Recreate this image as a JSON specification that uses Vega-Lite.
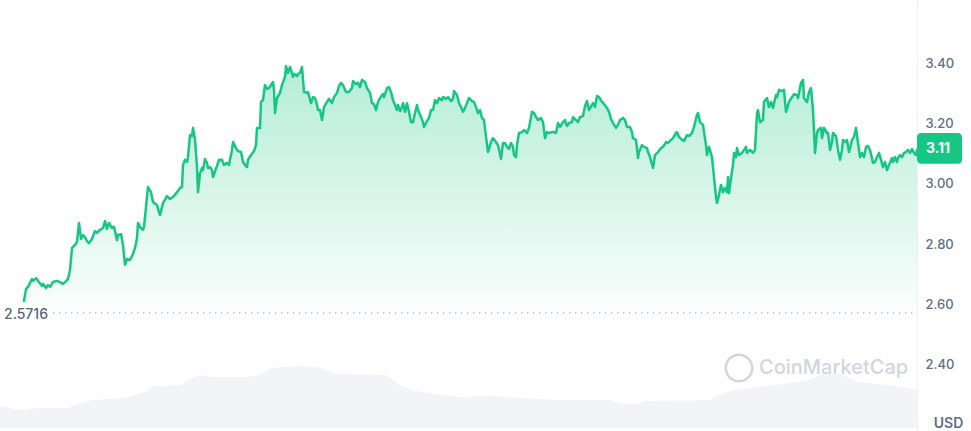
{
"$schema": "https://vega.github.io/schema/vega-lite/v6.json",
"width": 917,
"height": 431,
"autosize": {"type": "none"},
"padding": {"left": 0, "top": 0, "right": 54, "bottom": 0},
"background": "white",
"config": {
  "view": {"stroke": null},
  "font": "Inter",
  "axisY": {"labelFont": "Inter", "labelFontSize": 13, "labelFontWeight": 500, "labelColor": "#616e85", "labelPadding": 8, "ticks": false, "grid": true, "gridColor": "#eff2f5", "gridWidth": 1, "domain": true, "domainColor": "#eff2f5", "titleFont": "Inter", "titleFontSize": 14, "titleFontWeight": 600, "titleColor": "#616e85", "titleAngle": 0, "titleX": 31, "titleY": 427, "titleAlign": "center", "titleBaseline": "alphabetic"}
},
"datasets": {
  "price": [
{"t":24,"price":2.611},{"t":26,"price":2.651},{"t":28,"price":2.658},{"t":32,"price":2.684},{"t":33,"price":2.678},{"t":36,"price":2.687},{"t":38,"price":2.678},{"t":42,"price":2.661},{"t":43,"price":2.668},{"t":46,"price":2.654},{"t":48,"price":2.664},{"t":50,"price":2.658},{"t":53,"price":2.674},{"t":57,"price":2.678},{"t":60,"price":2.674},{"t":63,"price":2.668},{"t":65,"price":2.674},{"t":68,"price":2.684},{"t":70,"price":2.714},{"t":72,"price":2.787},{"t":75,"price":2.797},{"t":77,"price":2.807},{"t":79,"price":2.870},{"t":81,"price":2.817},{"t":83,"price":2.830},{"t":85,"price":2.823},{"t":87,"price":2.810},{"t":89,"price":2.803},{"t":92,"price":2.817},{"t":95,"price":2.843},{"t":97,"price":2.837},{"t":100,"price":2.847},{"t":103,"price":2.853},{"t":105,"price":2.876},{"t":107,"price":2.850},{"t":109,"price":2.870},{"t":112,"price":2.853},{"t":114,"price":2.857},{"t":117,"price":2.813},{"t":118,"price":2.830},{"t":121,"price":2.833},{"t":123,"price":2.797},{"t":125,"price":2.731},{"t":127,"price":2.750},{"t":130,"price":2.747},{"t":133,"price":2.767},{"t":135,"price":2.787},{"t":137,"price":2.820},{"t":138,"price":2.870},{"t":140,"price":2.857},{"t":143,"price":2.847},{"t":144,"price":2.857},{"t":147,"price":2.956},{"t":148,"price":2.989},{"t":151,"price":2.972},{"t":153,"price":2.939},{"t":157,"price":2.929},
{"t":160,"price":2.896},{"t":163,"price":2.936},{"t":167,"price":2.959},{"t":170,"price":2.949},{"t":173,"price":2.956},{"t":177,"price":2.972},{"t":180,"price":2.986},{"t":182,"price":2.989},{"t":183,"price":3.062},{"t":185,"price":3.079},{"t":187,"price":3.072},{"t":188,"price":3.088},{"t":190,"price":3.161},{"t":192,"price":3.158},{"t":193,"price":3.185},{"t":195,"price":3.145},{"t":197,"price":3.055},{"t":198,"price":2.972},{"t":200,"price":3.035},{"t":202,"price":3.052},{"t":203,"price":3.045},{"t":205,"price":3.082},{"t":207,"price":3.069},{"t":208,"price":3.052},{"t":210,"price":3.055},{"t":212,"price":3.045},{"t":213,"price":3.022},{"t":217,"price":3.059},{"t":219,"price":3.079},{"t":222,"price":3.079},{"t":224,"price":3.062},{"t":227,"price":3.069},{"t":229,"price":3.062},{"t":230,"price":3.079},{"t":232,"price":3.112},{"t":233,"price":3.138},{"t":236,"price":3.118},{"t":238,"price":3.108},{"t":241,"price":3.105},{"t":243,"price":3.072},{"t":245,"price":3.062},{"t":247,"price":3.055},{"t":248,"price":3.079},{"t":251,"price":3.095},{"t":254,"price":3.108},{"t":256,"price":3.128},{"t":257,"price":3.185},{"t":260,"price":3.185},{"t":261,"price":3.271},{"t":263,"price":3.277},{"t":265,"price":3.327},{"t":267,"price":3.314},{"t":269,"price":3.317},{"t":271,"price":3.327},{"t":273,"price":3.337},{"t":274,"price":3.311},{"t":275,"price":3.234},{"t":277,"price":3.284},{"t":280,"price":3.301},{"t":282,"price":3.327},{"t":285,"price":3.354},{"t":286,"price":3.390},{"t":288,"price":3.367},{"t":290,"price":3.387},{"t":293,"price":3.354},{"t":294,"price":3.364},{"t":297,"price":3.357},{"t":298,"price":3.364},{"t":300,"price":3.367},{"t":302,"price":3.387},
{"t":304,"price":3.304},{"t":307,"price":3.301},{"t":308,"price":3.304},{"t":311,"price":3.267},{"t":313,"price":3.287},{"t":315,"price":3.284},{"t":317,"price":3.261},{"t":318,"price":3.244},{"t":320,"price":3.244},{"t":322,"price":3.211},{"t":324,"price":3.254},{"t":327,"price":3.271},{"t":329,"price":3.281},{"t":332,"price":3.267},{"t":334,"price":3.287},{"t":337,"price":3.301},{"t":339,"price":3.324},{"t":341,"price":3.334},{"t":343,"price":3.327},{"t":346,"price":3.304},{"t":349,"price":3.304},{"t":352,"price":3.317},{"t":353,"price":3.340},{"t":356,"price":3.330},{"t":358,"price":3.334},{"t":360,"price":3.320},{"t":362,"price":3.344},{"t":365,"price":3.337},{"t":367,"price":3.317},{"t":370,"price":3.301},{"t":372,"price":3.267},{"t":374,"price":3.264},{"t":376,"price":3.244},{"t":378,"price":3.271},{"t":380,"price":3.284},{"t":383,"price":3.297},{"t":384,"price":3.287},{"t":387,"price":3.317},{"t":389,"price":3.320},{"t":391,"price":3.304},{"t":393,"price":3.277},{"t":395,"price":3.261},{"t":397,"price":3.244},{"t":398,"price":3.261},{"t":400,"price":3.241},{"t":402,"price":3.254},{"t":403,"price":3.267},{"t":405,"price":3.238},{"t":407,"price":3.267},{"t":409,"price":3.238},{"t":411,"price":3.204},{"t":413,"price":3.204},{"t":415,"price":3.234},{"t":417,"price":3.261},{"t":418,"price":3.244},{"t":421,"price":3.221},{"t":423,"price":3.204},{"t":424,"price":3.188},{"t":427,"price":3.208},{"t":429,"price":3.218},{"t":431,"price":3.244},{"t":433,"price":3.244},{"t":435,"price":3.277},{"t":437,"price":3.267},{"t":439,"price":3.284},{"t":442,"price":3.277},{"t":443,"price":3.287},{"t":446,"price":3.281},{"t":448,"price":3.287},{"t":451,"price":3.274},{"t":453,"price":3.281},{"t":454,"price":3.307},{"t":457,"price":3.294},{"t":459,"price":3.267},{"t":461,"price":3.254},{"t":463,"price":3.238},{"t":465,"price":3.251},{"t":467,"price":3.267},{"t":469,"price":3.284},{"t":472,"price":3.274},{"t":474,"price":3.271},{"t":477,"price":3.244},{"t":478,"price":3.234},{"t":480,"price":3.244},
{"t":482,"price":3.218},{"t":484,"price":3.211},{"t":486,"price":3.155},{"t":488,"price":3.105},{"t":491,"price":3.138},{"t":493,"price":3.151},{"t":496,"price":3.138},{"t":498,"price":3.128},{"t":501,"price":3.082},{"t":503,"price":3.135},{"t":505,"price":3.135},{"t":507,"price":3.122},{"t":509,"price":3.115},{"t":511,"price":3.135},{"t":513,"price":3.122},{"t":514,"price":3.095},{"t":516,"price":3.088},{"t":517,"price":3.128},{"t":519,"price":3.168},{"t":522,"price":3.171},{"t":524,"price":3.178},{"t":527,"price":3.168},{"t":529,"price":3.185},{"t":532,"price":3.238},{"t":534,"price":3.234},{"t":536,"price":3.221},{"t":538,"price":3.211},{"t":541,"price":3.218},{"t":543,"price":3.204},{"t":545,"price":3.151},{"t":547,"price":3.171},{"t":549,"price":3.168},{"t":552,"price":3.171},{"t":554,"price":3.171},{"t":556,"price":3.168},{"t":558,"price":3.201},{"t":560,"price":3.188},{"t":563,"price":3.204},{"t":565,"price":3.211},{"t":567,"price":3.191},{"t":569,"price":3.201},{"t":572,"price":3.204},{"t":573,"price":3.221},{"t":576,"price":3.211},{"t":578,"price":3.204},{"t":580,"price":3.221},{"t":583,"price":3.224},{"t":585,"price":3.257},{"t":587,"price":3.274},{"t":589,"price":3.244},{"t":592,"price":3.261},{"t":593,"price":3.267},{"t":595,"price":3.254},{"t":597,"price":3.291},{"t":599,"price":3.287},{"t":602,"price":3.271},{"t":604,"price":3.264},{"t":607,"price":3.251},{"t":609,"price":3.238},{"t":611,"price":3.214},{"t":613,"price":3.201},{"t":616,"price":3.185},{"t":618,"price":3.195},{"t":620,"price":3.211},{"t":623,"price":3.218},{"t":625,"price":3.211},{"t":627,"price":3.188},{"t":630,"price":3.188},{"t":632,"price":3.171},{"t":633,"price":3.151},{"t":636,"price":3.145},{"t":638,"price":3.085},{"t":639,"price":3.105},{"t":642,"price":3.128},{"t":644,"price":3.122},{"t":647,"price":3.118},{"t":648,"price":3.105},{"t":650,"price":3.088},
{"t":653,"price":3.052},{"t":655,"price":3.095},{"t":658,"price":3.105},{"t":661,"price":3.118},{"t":663,"price":3.122},{"t":666,"price":3.138},{"t":668,"price":3.135},{"t":671,"price":3.145},{"t":673,"price":3.151},{"t":676,"price":3.168},{"t":677,"price":3.171},{"t":679,"price":3.155},{"t":682,"price":3.145},{"t":684,"price":3.142},{"t":687,"price":3.161},{"t":689,"price":3.158},{"t":692,"price":3.168},{"t":694,"price":3.188},{"t":697,"price":3.228},{"t":698,"price":3.234},{"t":700,"price":3.204},{"t":703,"price":3.195},{"t":704,"price":3.171},{"t":706,"price":3.128},{"t":707,"price":3.095},{"t":709,"price":3.122},{"t":712,"price":3.088},{"t":714,"price":3.022},{"t":716,"price":2.956},{"t":717,"price":2.936},{"t":719,"price":2.963},{"t":721,"price":2.996},{"t":723,"price":2.972},{"t":725,"price":2.986},{"t":727,"price":2.972},{"t":728,"price":3.022},{"t":729,"price":2.969},{"t":731,"price":3.019},{"t":733,"price":3.062},{"t":734,"price":3.102},{"t":736,"price":3.088},{"t":737,"price":3.118},{"t":739,"price":3.095},{"t":742,"price":3.102},{"t":744,"price":3.112},{"t":746,"price":3.122},{"t":747,"price":3.102},{"t":750,"price":3.112},{"t":753,"price":3.102},{"t":755,"price":3.112},{"t":757,"price":3.234},{"t":758,"price":3.244},{"t":760,"price":3.204},{"t":763,"price":3.211},{"t":764,"price":3.271},{"t":767,"price":3.284},{"t":769,"price":3.254},{"t":771,"price":3.271},{"t":773,"price":3.251},{"t":776,"price":3.294},{"t":777,"price":3.287},{"t":779,"price":3.311},{"t":782,"price":3.307},{"t":784,"price":3.311},{"t":786,"price":3.238},{"t":787,"price":3.248},{"t":789,"price":3.271},{"t":792,"price":3.287},{"t":794,"price":3.297},{"t":797,"price":3.294},{"t":798,"price":3.284},{"t":801,"price":3.334},{"t":803,"price":3.344},{"t":804,"price":3.284},{"t":807,"price":3.271},{"t":809,"price":3.304},{"t":811,"price":3.317},
{"t":813,"price":3.244},{"t":815,"price":3.102},{"t":817,"price":3.168},{"t":818,"price":3.178},{"t":821,"price":3.185},{"t":822,"price":3.151},{"t":824,"price":3.185},{"t":827,"price":3.168},{"t":828,"price":3.168},{"t":830,"price":3.112},{"t":832,"price":3.138},{"t":833,"price":3.168},{"t":836,"price":3.158},{"t":838,"price":3.112},{"t":840,"price":3.079},{"t":842,"price":3.112},{"t":843,"price":3.145},{"t":846,"price":3.138},{"t":847,"price":3.145},{"t":849,"price":3.105},{"t":852,"price":3.145},{"t":854,"price":3.155},{"t":856,"price":3.185},{"t":858,"price":3.135},{"t":860,"price":3.088},{"t":862,"price":3.102},{"t":864,"price":3.088},{"t":866,"price":3.122},{"t":868,"price":3.125},{"t":870,"price":3.112},{"t":873,"price":3.069},{"t":875,"price":3.072},{"t":877,"price":3.088},{"t":879,"price":3.102},{"t":881,"price":3.079},{"t":883,"price":3.055},{"t":885,"price":3.072},{"t":887,"price":3.045},{"t":889,"price":3.062},{"t":892,"price":3.085},{"t":893,"price":3.072},{"t":895,"price":3.088},{"t":897,"price":3.072},{"t":898,"price":3.085},{"t":900,"price":3.095},{"t":902,"price":3.088},{"t":904,"price":3.102},{"t":906,"price":3.105},{"t":908,"price":3.112},{"t":910,"price":3.102},{"t":912,"price":3.115},{"t":914,"price":3.102},{"t":916,"price":3.095},{"t":917,"price":3.112}
  ],
  "volume": [
{"t":0,"volume":44},{"t":19,"volume":36},{"t":37,"volume":40},{"t":68,"volume":40},{"t":81,"volume":50},{"t":93,"volume":56},{"t":124,"volume":60},{"t":143,"volume":70},{"t":152,"volume":84},{"t":180,"volume":86},{"t":199,"volume":106},{"t":212,"volume":102},{"t":249,"volume":102},{"t":261,"volume":108},{"t":271,"volume":120},{"t":299,"volume":124},{"t":317,"volume":122},{"t":336,"volume":108},{"t":348,"volume":108},{"t":386,"volume":106},{"t":398,"volume":88},{"t":411,"volume":76},{"t":429,"volume":70},{"t":460,"volume":62},{"t":492,"volume":64},{"t":535,"volume":58},{"t":572,"volume":56},{"t":610,"volume":56},{"t":622,"volume":48},{"t":635,"volume":48},{"t":647,"volume":54},{"t":709,"volume":56},{"t":722,"volume":68},{"t":734,"volume":76},{"t":759,"volume":82},{"t":784,"volume":88},{"t":809,"volume":96},{"t":821,"volume":108},{"t":840,"volume":108},{"t":859,"volume":92},{"t":896,"volume":84},{"t":915,"volume":76},{"t":917,"volume":76}
  ]
},
"layer": [
  {
    "data": {"name": "volume"},
    "mark": {"type": "area", "fill": "#f2f4f7", "interpolate": "linear"},
    "encoding": {
      "x": {"field": "t", "type": "quantitative", "scale": {"domain": [0, 917]}, "axis": null},
      "y": {"field": "volume", "type": "quantitative", "scale": {"domain": [-6, 856], "nice": false, "zero": false}, "axis": null}
    }
  },
  {
    "layer": [
      {
        "data": {"name": "price"},
        "mark": {"type": "area", "fill": {"gradient": "linear", "x1": 0, "y1": 0, "x2": 0, "y2": 1, "stops": [{"offset": 0, "color": "rgba(22,199,132,0.32)"}, {"offset": 1, "color": "rgba(22,199,132,0.02)"}]}},
        "encoding": {
          "x": {"field": "t", "type": "quantitative", "scale": {"domain": [0, 917]}, "axis": null},
          "y": {"field": "price", "type": "quantitative", "scale": {"domain": [2.1804, 3.6088], "nice": false, "zero": false}, "axis": {"orient": "right", "values": [2.4, 2.6, 2.8, 3.0, 3.2, 3.4], "format": ".2f", "title": "USD"}},
          "y2": {"datum": 2.5716}
        }
      },
      {
        "data": {"values": [{}]},
        "mark": {"type": "rule", "stroke": "#a6b0c3", "strokeWidth": 1.3, "strokeDash": [1.3, 4.7]},
        "encoding": {
          "x": {"datum": 53, "type": "quantitative", "scale": {"domain": [0, 917]}, "axis": null},
          "x2": {"datum": 917},
          "y": {"datum": 2.5716, "type": "quantitative"}
        }
      },
      {
        "data": {"name": "price"},
        "mark": {"type": "line", "stroke": "#16c784", "strokeWidth": 2.5, "strokeJoin": "round", "strokeCap": "round"},
        "encoding": {
          "x": {"field": "t", "type": "quantitative", "scale": {"domain": [0, 917]}, "axis": null},
          "y": {"field": "price", "type": "quantitative", "axis": {"orient": "right", "values": [2.4, 2.6, 2.8, 3.0, 3.2, 3.4], "format": ".2f", "title": "USD"}}
        }
      },
      {
        "data": {"values": [{}]},
        "mark": {"type": "text", "text": "2.5716", "align": "left", "baseline": "middle", "dy": 2, "font": "Inter", "fontSize": 14, "fontWeight": 500, "fill": "#58667e"},
        "encoding": {
          "x": {"datum": 4, "type": "quantitative", "scale": {"domain": [0, 917]}, "axis": null},
          "y": {"datum": 2.5716, "type": "quantitative"}
        }
      },
      {
        "data": {"values": [{}]},
        "mark": {"type": "rect", "fill": "#16c784", "cornerRadius": 4},
        "encoding": {
          "x": {"datum": 917, "type": "quantitative", "scale": {"domain": [0, 917]}, "axis": null},
          "x2": {"datum": 962},
          "y": {"datum": 3.168, "type": "quantitative"},
          "y2": {"datum": 3.066}
        }
      },
      {
        "data": {"values": [{}]},
        "mark": {"type": "text", "text": "3.11", "align": "center", "baseline": "middle", "font": "Inter", "fontSize": 14, "fontWeight": 700, "fill": "white"},
        "encoding": {
          "x": {"datum": 938, "type": "quantitative", "scale": {"domain": [0, 917]}, "axis": null},
          "y": {"datum": 3.115, "type": "quantitative"}
        }
      },
      {
        "data": {"values": [{}]},
        "mark": {"type": "point", "shape": "circle", "filled": false, "stroke": "#cfd6e2", "strokeWidth": 2.5, "size": 700, "opacity": 1},
        "encoding": {
          "x": {"datum": 739, "type": "quantitative", "scale": {"domain": [0, 917]}, "axis": null},
          "y": {"datum": 2.389, "type": "quantitative"}
        }
      },
      {
        "data": {"values": [{}]},
        "mark": {"type": "text", "text": "CoinMarketCap", "align": "left", "baseline": "middle", "font": "Inter", "fontSize": 20, "fontWeight": 500, "fill": "#cfd6e2"},
        "encoding": {
          "x": {"datum": 759, "type": "quantitative", "scale": {"domain": [0, 917]}, "axis": null},
          "y": {"datum": 2.389, "type": "quantitative"}
        }
      }
    ]
  }
],
"resolve": {"scale": {"y": "independent"}}
}
